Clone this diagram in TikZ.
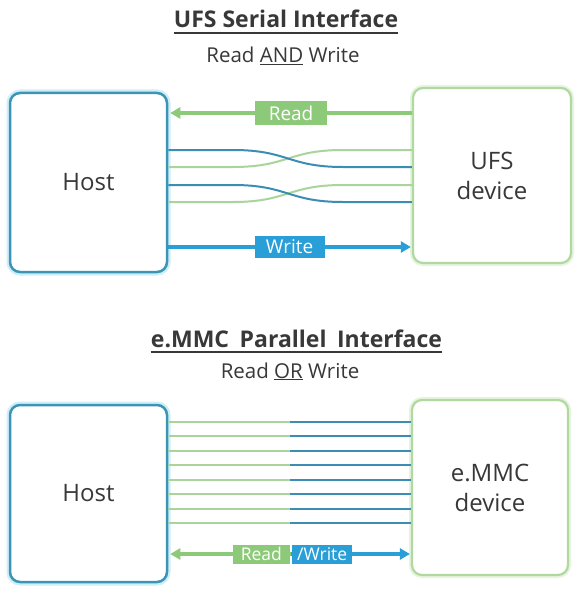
\documentclass[tikz,border=0pt]{standalone}
\usepackage{fontspec}
\setmainfont{Open Sans}
\usepackage{tikz}
\usetikzlibrary{arrows.meta, positioning, calc}

\definecolor{hostblue}{HTML}{3E94B5}
\definecolor{hostglow}{HTML}{CDEFF8}
\definecolor{devgreen}{HTML}{B0D8A0}
\definecolor{devglow}{HTML}{E6F4E0}
\definecolor{rdgreen}{HTML}{8CCA7A}
\definecolor{wrblue}{HTML}{2A9ED6}
\definecolor{lnblue}{HTML}{3C8DB3}
\definecolor{lngreen}{HTML}{A9D49B}
\definecolor{txtgray}{HTML}{383838}

\tikzset{
    hostbox/.style={draw=hostblue, line width=2.5pt, rounded corners=10pt, fill=white,
        preaction={draw=hostglow, line width=7pt}, text=txtgray,
        font=\fontsize{24}{30}\selectfont, align=center},
    devbox/.style={draw=devgreen, line width=2.2pt, rounded corners=10pt, fill=white,
        preaction={draw=devglow, line width=6pt}, text=txtgray,
        font=\fontsize{24}{30}\selectfont, align=center},
    lbl/.style={text=white, inner sep=0pt, minimum height=22pt},
    rdarrow/.style={draw=rdgreen, line width=3.5pt, -{Triangle[length=10pt,width=11pt]}},
    wrarrow/.style={draw=wrblue, line width=3.5pt, -{Triangle[length=10pt,width=11pt]}},
    bline/.style={draw=lnblue, line width=2pt},
    gline/.style={draw=lngreen, line width=2pt},
    heading/.style={text=txtgray, inner sep=0pt, anchor=base, font=\fontsize{23}{27}\selectfont\bfseries},
    subheading/.style={text=txtgray, inner sep=0pt, anchor=base, font=\fontsize{20.5}{24}\selectfont},
    uline/.style={draw=txtgray, line width=1.4pt}
}

\begin{document}
\begin{tikzpicture}[x=1pt, y=-1pt]
    \useasboundingbox[fill=white] (0,0) rectangle (580,591);

    % serial interface
    \node[heading] (t1) at (286,28) {UFS Serial Interface};
    \draw[uline] ([yshift=-5pt]t1.base west) -- ([yshift=-5pt]t1.base east);
    \node[subheading] (s1) at (283,63) {Read \underline{AND} Write};

    \node[hostbox, minimum width=157pt, minimum height=179pt] (host1) at (88.5,182.5) {Host};
    \node[devbox, minimum width=158pt, minimum height=175pt] (ufs) at (492,175.5) {UFS\\device};

    \draw[rdarrow] (ufs.west |- 0,113) -- node[lbl, fill=rdgreen, minimum width=72pt, minimum height=24pt, font=\fontsize{19}{22}\selectfont] {Read} ([xshift=2pt]host1.east |- 0,113);
    \draw[wrarrow] (host1.east |- 0,247) -- node[lbl, fill=wrblue, minimum width=70pt, minimum height=22pt, font=\fontsize{19}{22}\selectfont] {Write} ([xshift=-1pt]ufs.west |- 0,247);

    \foreach \y in {150,185} {
        \draw[gline] (host1.east |- 0,\y+17) -- (233,\y+17) .. controls (288,\y+17) and (288,\y) .. (343,\y) -- (ufs.west |- 0,\y);
        \draw[bline] (host1.east |- 0,\y) -- (233,\y) .. controls (288,\y) and (288,\y+17) .. (343,\y+17) -- (ufs.west |- 0,\y+17);
    }

    % parallel interface
    \node[heading] (t2) at (296.5,347) {e.MMC\hspace{0.2em} Parallel\hspace{0.2em} Interface};
    \draw[uline] ([yshift=-5pt]t2.base west) -- ([yshift=-5pt]t2.base east);
    \node[subheading] (s2) at (290,378) {Read \underline{OR} Write};

    \node[hostbox, minimum width=157pt, minimum height=177pt] (host2) at (88.5,493.5) {Host};
    \node[devbox, minimum width=156pt, minimum height=175pt] (emmc) at (490,487.5) {e.MMC\\device};

    \foreach \i in {0,...,7} {
        \coordinate (mid\i) at (290,422+14.43*\i);
        \draw[gline] (host2.east |- mid\i) -- (mid\i);
        \draw[bline] (mid\i) -- (emmc.west |- mid\i);
    }

    \coordinate (midrw) at (291,554);
    \draw[rdarrow] (midrw) -- ([xshift=2pt]host2.east |- midrw);
    \draw[wrarrow] (midrw) -- ([xshift=-1pt]emmc.west |- midrw);
    \node[lbl, fill=rdgreen, minimum width=57pt, minimum height=19pt, anchor=east, font=\fontsize{17.5}{20}\selectfont] (rd) at (290,554) {Read};
    \node[lbl, fill=wrblue, minimum width=60pt, minimum height=19pt, anchor=west, font=\fontsize{17.5}{20}\selectfont] (wr) at (292,554) {/Write};
\end{tikzpicture}
\end{document}
